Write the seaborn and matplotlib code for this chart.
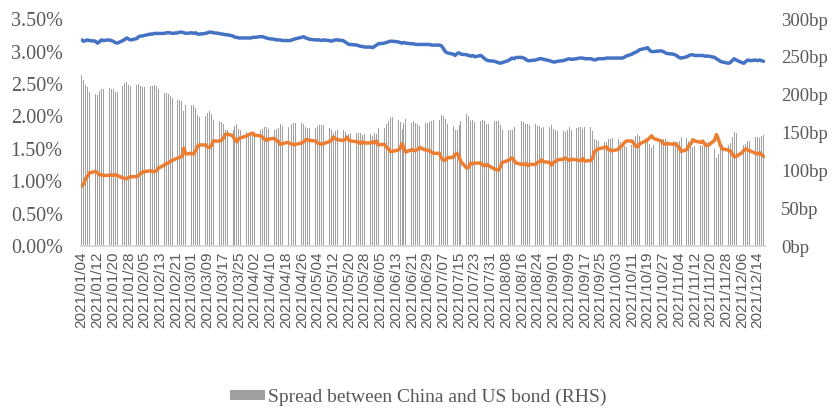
import numpy as np
import pandas as pd
import matplotlib
matplotlib.use("Agg")
import matplotlib.pyplot as plt
import matplotlib.dates as mdates
import matplotlib.ticker as mticker
import seaborn as sns

# Trading days 2021/01/04 - 2021/12/17
dates = pd.bdate_range("2021-01-04", "2021-12-17")

# China 10Y government bond yield (%), one row per week
china_10y = [
    3.18, 3.16, 3.17, 3.18, 3.17,  3.16, 3.13, 3.15, 3.18, 3.17,
    3.18, 3.17, 3.16, 3.14, 3.13,  3.17, 3.19, 3.21, 3.19, 3.18,
    3.20, 3.23, 3.24, 3.24, 3.25,  3.27, 3.27, 3.28, 3.28, 3.28,
    3.28, 3.29, 3.29, 3.29, 3.28,  3.29, 3.30, 3.30, 3.29, 3.28,
    3.29, 3.28, 3.29, 3.27, 3.27,  3.28, 3.29, 3.30, 3.30, 3.29,
    3.28, 3.27, 3.27, 3.26, 3.26,  3.24, 3.22, 3.22, 3.21, 3.21,
    3.21, 3.21, 3.21, 3.22, 3.22,  3.23, 3.23, 3.22, 3.21, 3.20,
    3.19, 3.18, 3.18, 3.18, 3.17,  3.17, 3.17, 3.18, 3.19, 3.20,
    3.22, 3.23, 3.21, 3.20, 3.19,  3.18, 3.18, 3.18, 3.17, 3.18,
    3.17, 3.16, 3.17, 3.18, 3.18,  3.17, 3.15, 3.13, 3.11, 3.11,
    3.10, 3.09, 3.08, 3.08, 3.07,  3.07, 3.06, 3.08, 3.10, 3.12,
    3.13, 3.14, 3.15, 3.16, 3.16,  3.15, 3.14, 3.13, 3.14, 3.13,
    3.12, 3.12, 3.11, 3.11, 3.11,  3.11, 3.11, 3.11, 3.10, 3.10,
    3.10, 3.09, 3.05, 3.00, 2.98,  2.96, 2.94, 2.97, 2.98, 2.96,
    2.95, 2.94, 2.93, 2.94, 2.92,  2.94, 2.92, 2.89, 2.87, 2.86,
    2.85, 2.84, 2.83, 2.82, 2.83,  2.86, 2.88, 2.90, 2.89, 2.91,
    2.91, 2.90, 2.88, 2.86, 2.86,  2.87, 2.88, 2.89, 2.89, 2.88,
    2.86, 2.85, 2.84, 2.84, 2.85,  2.86, 2.87, 2.88, 2.89, 2.88,
    2.89, 2.90, 2.90, 2.90, 2.89,  2.89, 2.88, 2.87, 2.88, 2.89,
    2.89, 2.90, 2.90, 2.90, 2.90,  2.90, 2.90, 2.90, 2.91, 2.93,
    2.96, 2.98, 2.99, 3.01, 3.03,  3.05, 3.06, 3.02, 3.00, 3.00,
    3.01, 3.01, 3.00, 2.98, 2.97,  2.96, 2.95, 2.93, 2.91, 2.90,
    2.92, 2.94, 2.95, 2.95, 2.94,  2.94, 2.94, 2.93, 2.93, 2.93,
    2.91, 2.89, 2.87, 2.85, 2.84,  2.82, 2.83, 2.86, 2.89, 2.87,
    2.83, 2.82, 2.85, 2.87, 2.86,  2.87, 2.86, 2.87, 2.86, 2.85,
]

# US 10Y treasury yield (%)
us_10y = [
    0.92, 0.96, 1.04, 1.08, 1.13,  1.15, 1.13, 1.10, 1.10, 1.09,
    1.09, 1.10, 1.09, 1.10, 1.09,  1.05, 1.04, 1.04, 1.06, 1.07,
    1.07, 1.09, 1.12, 1.14, 1.15,  1.16, 1.15, 1.15, 1.16, 1.20,
    1.25, 1.27, 1.28, 1.30, 1.32,  1.36, 1.37, 1.38, 1.51, 1.42,
    1.43, 1.42, 1.47, 1.54, 1.56,  1.56, 1.53, 1.52, 1.55, 1.62,
    1.62, 1.63, 1.66, 1.72, 1.73,  1.70, 1.63, 1.61, 1.66, 1.67,
    1.70, 1.72, 1.73, 1.74, 1.71,  1.70, 1.68, 1.65, 1.63, 1.65,
    1.66, 1.63, 1.62, 1.57, 1.58,  1.60, 1.58, 1.57, 1.56, 1.57,
    1.59, 1.61, 1.64, 1.64, 1.63,  1.62, 1.59, 1.58, 1.57, 1.58,
    1.61, 1.63, 1.68, 1.66, 1.64,  1.63, 1.64, 1.68, 1.63, 1.62,
    1.61, 1.60, 1.58, 1.61, 1.59,  1.59, 1.61, 1.59, 1.62, 1.56,
    1.57, 1.53, 1.50, 1.46, 1.46,  1.48, 1.50, 1.58, 1.51, 1.45,
    1.49, 1.47, 1.48, 1.49, 1.52,  1.48, 1.48, 1.47, 1.45, 1.43,
    1.43, 1.36, 1.33, 1.32, 1.36,  1.37, 1.41, 1.43, 1.38, 1.30,
    1.20, 1.22, 1.28, 1.27, 1.28,  1.28, 1.25, 1.24, 1.26, 1.24,
    1.19, 1.18, 1.17, 1.22, 1.29,  1.32, 1.34, 1.36, 1.32, 1.28,
    1.26, 1.26, 1.27, 1.24, 1.26,  1.26, 1.29, 1.30, 1.33, 1.30,
    1.29, 1.25, 1.29, 1.30, 1.33,  1.34, 1.36, 1.34, 1.32, 1.34,
    1.33, 1.32, 1.32, 1.35, 1.31,  1.32, 1.36, 1.46, 1.48, 1.50,
    1.52, 1.53, 1.49, 1.48, 1.47,  1.49, 1.53, 1.55, 1.59, 1.62,
    1.62, 1.58, 1.54, 1.53, 1.58,  1.62, 1.64, 1.67, 1.70, 1.66,
    1.63, 1.62, 1.58, 1.57, 1.58,  1.57, 1.58, 1.55, 1.52, 1.46,
    1.49, 1.55, 1.58, 1.64, 1.62,  1.60, 1.62, 1.57, 1.55, 1.56,
    1.63, 1.72, 1.65, 1.55, 1.50,  1.48, 1.47, 1.42, 1.38, 1.38,
    1.44, 1.48, 1.50, 1.48, 1.47,  1.43, 1.42, 1.44, 1.41, 1.38,
]

# Spread between China and US bond (bp, RHS)
spread_bp = [
    226, 220, 213, 210, 204,  201, 200, 205, 208, 208,
    209, 207, 207, 204, 204,  212, 215, 217, 213, 211,
    213, 214, 212, 210, 210,  211, 212, 213, 212, 208,
    203, 202, 201, 199, 196,  193, 193, 192, 178, 186,
    186, 186, 182, 173, 171,  172, 176, 178, 175, 167,
    166, 164, 161, 154, 153,  154, 159, 161, 155, 154,
    151, 149, 148, 148, 151,  153, 155, 157, 158, 155,
    153, 155, 156, 161, 159,  157, 159, 161, 163, 163,
    163, 162, 157, 156, 156,  156, 159, 160, 160, 160,
    156, 153, 149, 152, 154,  154, 151, 145, 148, 149,
    149, 149, 150, 147, 148,  148, 145, 149, 148, 156,
    156, 161, 165, 170, 170,  167, 164, 155, 163, 168,
    163, 165, 163, 162, 159,  163, 163, 164, 165, 167,
    167, 173, 172, 168, 162,  159, 153, 154, 160, 166,
    175, 172, 165, 167, 164,  166, 167, 165, 161, 162,
    166, 166, 166, 160, 154,  154, 154, 154, 157, 163,
    165, 164, 161, 162, 160,  161, 159, 159, 156, 158,
    157, 160, 155, 154, 152,  152, 151, 154, 157, 154,
    156, 158, 158, 155, 158,  157, 152, 141, 140, 139,
    137, 137, 141, 142, 143,  141, 137, 135, 132, 131,
    134, 140, 145, 148, 145,  143, 142, 135, 130, 134,
    138, 139, 142, 141, 139,  139, 137, 138, 139, 144,
    143, 139, 137, 131, 132,  134, 132, 136, 138, 137,
    128, 117, 122, 130, 134,  134, 136, 144, 151, 149,
    139, 134, 135, 139, 139,  144, 144, 143, 145, 147,
]

df = pd.DataFrame({"date": dates, "china": china_10y, "us": us_10y, "spread": spread_bp})

tick_dates = pd.date_range("2021-01-04", "2021-12-17", freq="8D")

sns.set_theme(style="white")
plt.rcParams["font.family"] = ["Liberation Serif", "DejaVu Serif"]

text_grey = "#595959"
fig = plt.figure(figsize=(8.32, 4.08), dpi=100)
ax = fig.add_axes([0.097, 0.397, 0.822, 0.556])
ax2 = ax.twinx()

# bars on the right axis, lines drawn above them on the left axis
ax2.bar(df["date"], df["spread"], width=0.5, color="#a0a0a0", linewidth=0,
        antialiased=False, label="Spread between China and US bond (RHS)")
ax.set_zorder(ax2.get_zorder() + 1)
ax.patch.set_visible(False)

sns.lineplot(data=df, x="date", y="china", ax=ax, color="#4472c4", linewidth=2.5, legend=False)
sns.lineplot(data=df, x="date", y="us", ax=ax, color="#ed7d31", linewidth=2.5, legend=False)

ax.set_ylim(0, 3.5)
ax.set_yticks(np.arange(0, 3.51, 0.5))
ax.yaxis.set_major_formatter(mticker.FuncFormatter(lambda v, p: f"{v:.2f}%"))
ax2.set_ylim(0, 300)
ax2.set_yticks(np.arange(0, 301, 50))
ax2.yaxis.set_major_formatter(mticker.FuncFormatter(lambda v, p: f"{v:.0f}bp"))

ax.set_xlim(dates[0] - pd.Timedelta(hours=12), dates[-1] + pd.Timedelta(hours=12))
ax.set_xticks(tick_dates)
ax.xaxis.set_major_formatter(mdates.DateFormatter("%Y/%m/%d"))
for lab in ax.get_xticklabels():
    lab.set_rotation(90)
    lab.set_fontfamily("Liberation Sans")
    lab.set_fontsize(11)

ax.set_xlabel("")
ax.set_ylabel("")
ax2.set_ylabel("")
ax.tick_params(axis="x", length=0, pad=4, colors=text_grey)
ax.tick_params(axis="y", length=0, pad=13, labelsize=14.5, colors=text_grey)
ax2.tick_params(axis="y", length=0, pad=12, labelsize=13.5, colors=text_grey)

for a in (ax, ax2):
    for side in ("top", "left", "right"):
        a.spines[side].set_visible(False)
    a.spines["bottom"].set_color("#d9d9d9")

handles, labels = ax2.get_legend_handles_labels()
fig.legend(handles, labels, loc="center", bbox_to_anchor=(0.503, 0.027), frameon=False,
           fontsize=14, labelcolor=text_grey, handlelength=1.8, handleheight=0.4,
           handletextpad=0.15)

fig.savefig("out.png", dpi=100)
